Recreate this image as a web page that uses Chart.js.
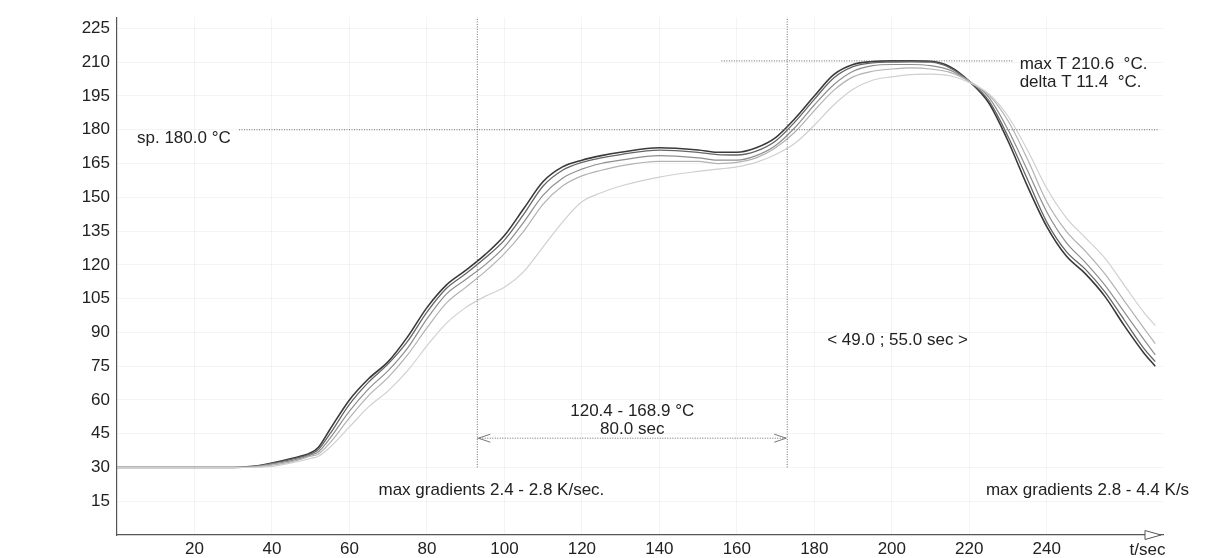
<!DOCTYPE html>
<html>
<head>
<meta charset="utf-8">
<script src="https://cdn.jsdelivr.net/npm/chart.js@4.4.1/dist/chart.umd.min.js"></script>
<style>
  html, body { margin: 0; padding: 0; background: #fff; }
  #chart { display: block; }
</style>
</head>
<body>
<canvas id="chart" width="1206" height="558"></canvas>
<script>
const FONT = '"Liberation Sans", Arial, sans-serif';

// sample times (s)
const timeSec = [0, 10, 20, 30, 35, 40, 45, 50, 52, 55, 60, 65, 70, 75, 80, 85, 90, 95, 100, 105,
  110, 115, 120, 125, 130, 140, 150, 155, 160, 165, 170, 175, 180, 185, 190, 195, 200, 205, 210, 215,
  220, 225, 230, 235, 240, 245, 250, 255, 260, 265, 268];

// thermocouple readings (°C), hottest first
const probe1 = [30, 30, 30, 30, 30.5, 32, 34, 36.5, 39, 47, 60, 69.5, 77, 88, 101, 111, 117.5, 124.5, 133, 145,
  157, 163.5, 166.5, 168.5, 170, 172, 171, 170, 170, 172, 176.5, 185, 195, 204.5, 209, 210.3, 210.6, 210.6, 210.4, 208,
  201.5, 192, 175, 155, 137, 124, 116, 106, 93, 81, 75];
const probe2 = [30, 30, 30, 30, 30.4, 31.8, 33.6, 36, 38, 45, 58, 68, 76, 86, 99, 109.5, 116, 123, 131, 142.5,
  155, 162, 165.5, 167.5, 169, 171, 170, 169, 168.8, 170.5, 175, 183.5, 193.5, 203, 208, 209.7, 210.1, 210.2, 210, 207.5,
  201.5, 193, 177, 158, 139, 126, 118, 108, 95.5, 83, 77];
const probe3 = [30, 30, 30, 30, 30.3, 31.5, 33, 35.5, 37, 43, 55, 65, 73, 83, 96, 107, 113.5, 120, 128, 139,
  151, 158.5, 162.5, 165, 166.5, 168.5, 167.5, 166.5, 166.5, 168.5, 173, 181, 191, 200, 206, 208.5, 209, 209, 208.5, 206.5,
  201.5, 194.5, 180, 162, 143.5, 130, 121, 111, 99, 87, 80];
const probe4 = [30, 30, 30, 30, 30.2, 31, 32.5, 35, 36, 41, 52, 62, 70, 80, 92, 103, 110, 117, 125, 135,
  147, 155, 159.5, 162, 164, 166, 166, 165, 165.5, 167.5, 172, 179, 188.5, 197.5, 203.5, 206, 207, 207.5, 207, 205.5,
  201.5, 195.5, 184, 167, 148, 135, 126, 116, 104, 92, 85];
const probe5 = [30, 30, 30, 30, 30, 30.5, 32, 34, 35, 39, 48, 57, 64, 73, 84, 94, 101, 106, 110, 117,
  128, 139, 148, 152, 155, 159, 161.5, 162.5, 163.5, 165.5, 169, 174, 182, 191, 198, 202, 203.5, 204.5, 204.7, 204,
  201, 196, 186, 171, 154, 141, 132, 123, 111, 99, 93];

const xTicks = [20, 40, 60, 80, 100, 120, 140, 160, 180, 200, 220, 240];
const yTicks = [15, 30, 45, 60, 75, 90, 105, 120, 135, 150, 165, 180, 195, 210, 225];

const setpoint = 180.0;
const maxT = 210.6;
const deltaT = 11.4;
const soakStart = 93;
const soakEnd = 173;
const soakRange = [120.4, 168.9];
const soakTime = 80.0;
const reflowTimes = [49.0, 55.0];
const gradientsUp = [2.4, 2.8];
const gradientsDown = [2.8, 4.4];

const probes = [probe5, probe4, probe3, probe2, probe1];
const colors = ['#d0d0d0', '#b2b2b2', '#8e8e8e', '#666666', '#3a3a3a'];
const widths = [1.2, 1.2, 1.2, 1.3, 1.6];

const datasets = probes.map((vals, i) => ({
  data: timeSec.map((t, k) => ({ x: t, y: vals[k] })),
  borderColor: colors[i],
  borderWidth: widths[i],
  pointRadius: 0,
  cubicInterpolationMode: 'monotone',
  fill: false
}));

function dotted(ctx, x0, y0, x1, y1) {
  ctx.beginPath();
  ctx.moveTo(x0, y0);
  ctx.lineTo(x1, y1);
  ctx.stroke();
}

// setpoint / soak / peak marks and labels
const overlay = {
  id: 'overlay',
  afterDraw(chart) {
    const { ctx, chartArea: a, scales: { x, y } } = chart;
    ctx.save();
    ctx.lineWidth = 1;
    ctx.strokeStyle = '#6a6a6a';
    ctx.setLineDash([1, 1.5]);

    const ySp = y.getPixelForValue(setpoint);
    dotted(ctx, x.getPixelForValue(31.5), ySp, a.right - 4, ySp);

    const yMax = y.getPixelForValue(maxT);
    dotted(ctx, x.getPixelForValue(156), yMax, x.getPixelForValue(231.5), yMax);

    const xs = x.getPixelForValue(soakStart);
    const xe = x.getPixelForValue(soakEnd);
    [xs, xe].forEach(px => dotted(ctx, px, y.getPixelForValue(30), px, a.top));

    const ay = y.getPixelForValue(43);
    dotted(ctx, xs, ay, xe, ay);

    ctx.setLineDash([]);
    ctx.strokeStyle = '#777';
    ctx.beginPath();
    ctx.moveTo(xs + 13, ay - 4); ctx.lineTo(xs + 1, ay); ctx.lineTo(xs + 13, ay + 4);
    ctx.moveTo(xe - 13, ay - 4); ctx.lineTo(xe - 1, ay); ctx.lineTo(xe - 13, ay + 4);
    ctx.stroke();

    // x axis arrow head
    ctx.strokeStyle = '#555';
    ctx.beginPath();
    ctx.moveTo(a.right - 18, a.bottom - 4.5);
    ctx.lineTo(a.right - 2, a.bottom);
    ctx.lineTo(a.right - 18, a.bottom + 4.5);
    ctx.closePath();
    ctx.fillStyle = '#fff';
    ctx.fill();
    ctx.stroke();

    ctx.fillStyle = '#222';
    ctx.font = '17px ' + FONT;
    ctx.textBaseline = 'middle';

    ctx.textAlign = 'left';
    ctx.fillText('sp. ' + setpoint.toFixed(1) + ' °C', a.left + 20, ySp + 9);
    const xm = x.getPixelForValue(233);
    ctx.fillText('max T ' + maxT.toFixed(1) + '  °C.', xm, yMax + 3);
    ctx.fillText('delta T ' + deltaT.toFixed(1) + '  °C.', xm, yMax + 21);
    const yg = y.getPixelForValue(20);
    ctx.fillText('max gradients ' + gradientsUp[0].toFixed(1) + ' - ' + gradientsUp[1].toFixed(1) + ' K/sec.',
      x.getPixelForValue(67.5), yg);
    ctx.fillText('max gradients ' + gradientsDown[0].toFixed(1) + ' - ' + gradientsDown[1].toFixed(1) + ' K/s',
      x.getPixelForValue(224.3), yg);

    ctx.textAlign = 'center';
    const xc = (xs + xe) / 2;
    ctx.fillText(soakRange[0].toFixed(1) + ' - ' + soakRange[1].toFixed(1) + ' °C', xc, ay - 27);
    ctx.fillText(soakTime.toFixed(1) + ' sec', xc, ay - 9);
    ctx.fillText('< ' + reflowTimes[0].toFixed(1) + ' ; ' + reflowTimes[1].toFixed(1) + ' sec >',
      x.getPixelForValue(201.5), y.getPixelForValue(86.6));

    ctx.fillText('t/sec', x.getPixelForValue(266), a.bottom + 15);
    ctx.restore();
  }
};

new Chart(document.getElementById('chart').getContext('2d'), {
  type: 'line',
  data: { datasets },
  plugins: [overlay],
  options: {
    responsive: false,
    animation: false,
    layout: { padding: { top: 15, right: 43, left: 0, bottom: 0 } },
    plugins: { legend: { display: false }, tooltip: { enabled: false } },
    scales: {
      x: {
        type: 'linear',
        min: 0,
        max: 270,
        afterBuildTicks: s => { s.ticks = xTicks.map(v => ({ value: v })); },
        afterFit: s => { s.height = 23; },
        ticks: { font: { family: FONT, size: 17 }, color: '#222', padding: 4, maxRotation: 0, autoSkip: false },
        grid: { color: 'rgba(0,0,0,0.045)', drawTicks: false },
        border: { color: '#555', width: 1.2 }
      },
      y: {
        min: 0,
        max: 230,
        afterBuildTicks: s => { s.ticks = yTicks.map(v => ({ value: v })); },
        afterFit: s => { s.width = 117; },
        ticks: { font: { family: FONT, size: 17 }, color: '#222', padding: 7 },
        grid: { color: 'rgba(0,0,0,0.045)', drawTicks: false },
        border: { color: '#555', width: 1.2 }
      }
    }
  }
});
</script>
</body>
</html>
